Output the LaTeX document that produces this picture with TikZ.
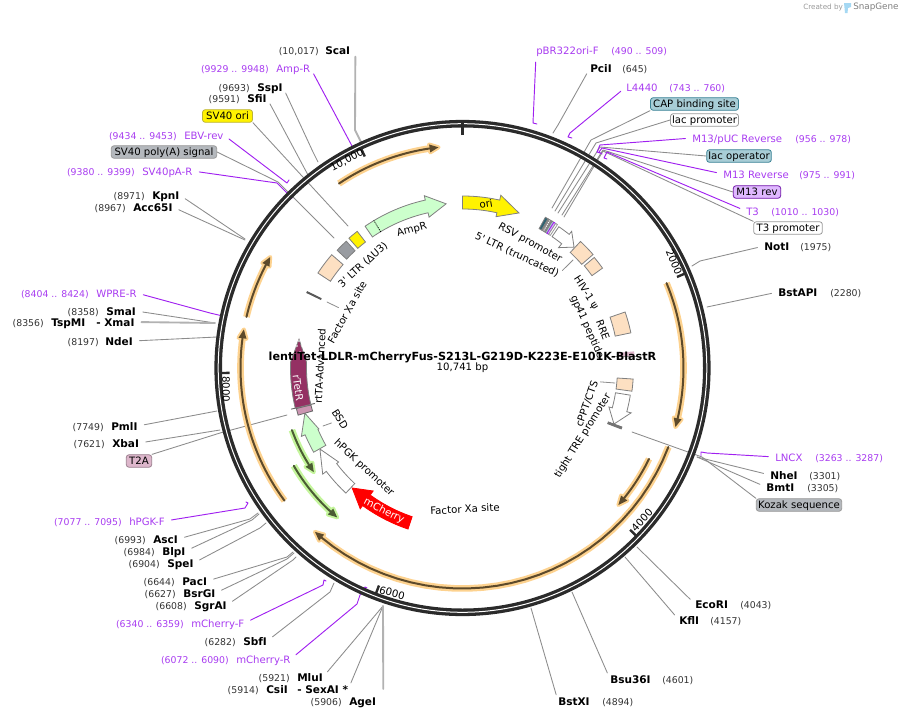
\documentclass[tikz,border=0pt]{standalone}
\usepackage{fontspec}
\setmainfont{DejaVu Sans}
\usetikzlibrary{arrows}
\definecolor{ringdark}{HTML}{2B2B2B}
\definecolor{sitegray}{HTML}{8C8C8C}
\definecolor{primerpurple}{HTML}{A020F0}
\definecolor{primertext}{HTML}{A83CF0}
\definecolor{orfglow}{HTML}{FDD28F}
\definecolor{orfcore}{HTML}{5D4A2B}
\definecolor{greenglow}{HTML}{C4F59C}
\definecolor{greencore}{HTML}{4B5C34}
\definecolor{peach}{HTML}{FDE0C2}
\definecolor{mintfill}{HTML}{CCFFCC}
\definecolor{maroon}{HTML}{943163}
\definecolor{tealchip}{HTML}{A8CDD6}
\definecolor{tealedge}{HTML}{3D8496}
\definecolor{graychip}{HTML}{B4B8BD}
\definecolor{purplechip}{HTML}{DFB8FF}
\definecolor{pinkchip}{HTML}{DDB6CB}
\definecolor{logoblue}{HTML}{A5D8F3}
\tikzset{
	cutname/.style={font=\bfseries\fontsize{7.9}{9}\selectfont,inner sep=0pt,text height=7.4pt,text depth=.5pt},
	cutpos/.style={font=\fontsize{7}{9}\selectfont,text=black!80,inner sep=0pt,text height=6.7pt,text depth=.5pt},
	primername/.style={font=\fontsize{7.6}{9}\selectfont,text=primertext,inner sep=0pt,text height=7.2pt,text depth=.5pt},
	primerpos/.style={font=\fontsize{7}{9}\selectfont,text=primertext,inner sep=0pt,text height=6.7pt,text depth=.5pt},
	chip/.style={font=\fontsize{7.6}{9}\selectfont,rounded corners=2pt,line width=.6pt,inner sep=0pt,minimum height=9.4pt,text height=6.6pt,text depth=1.6pt},
	featlabel/.style={font=\fontsize{7.65}{9}\selectfont,inner sep=0pt},
	sitecon/.style={draw=sitegray,line width=.65pt,shorten <=5pt},
	sitethick/.style={draw=black!30,line width=1.4pt,shorten <=5pt},
	chipcon/.style={draw=sitegray,line width=.65pt},
	primercon/.style={draw=primerpurple,line width=.7pt,shorten <=5pt},
	leader/.style={draw=sitegray,line width=.6pt,shorten <=4pt},
	feat/.style={draw=black!50,line width=.6pt,line join=miter},
}
\newcommand{\ringarc}[3]{plot[domain=#1:#2,samples=30,variable=\ang] ({\ang-90}:#3)}
\newcommand{\featbox}[5]{\draw[feat,#1] \ringarc{#2}{#3}{#5} -- plot[domain=#3:#2,samples=8,variable=\ang] ({\ang-90}:#4) -- cycle;}
\newcommand{\featarrow}[9]{\draw[feat,#1] \ringarc{#2}{#3}{#6} -- ({#3-90}:#8) -- ({#4-90}:#9) -- ({#3-90}:#7) -- ({#3-90}:#5) -- plot[domain=#3:#2,samples=30,variable=\ang] ({\ang-90}:#5) -- cycle;}
\newcommand{\orfarrow}[6]{
	\draw[#1,line width=5pt,line cap=butt] \ringarc{#3}{#4}{#6};
	\filldraw[#1,line width=3pt,line join=round] ({#4-90}:{#6-4}) -- ({#5-90}:#6) -- ({#4-90}:{#6+4}) -- cycle;
	\draw[#2,line width=1.5pt] \ringarc{#3}{#4}{#6};
	\fill[#2] ({#4-90}:{#6-4}) -- ({#5-90}:#6) -- ({#4-90}:{#6+4}) -- cycle;
}
\begin{document}
\begin{tikzpicture}[line cap=round,line join=round,x=0.75pt,y=-0.75pt]
	\useasboundingbox (0,0) rectangle (901,718);
	% logo
	\node[font=\fontsize{5.4}{6}\selectfont,text=black!40,inner sep=0pt,anchor=west] (createdby) at (803,7.5) {Created by};
	\node[font=\fontsize{6.6}{7}\selectfont,text=black!50,inner sep=0pt,anchor=west] (snapgene) at (853,7.5) {SnapGene};
	\fill[logoblue] (844,3) -- (851,3) -- (851,7) -- (848,8) -- (847.5,13) -- (845,13) -- cycle;
	% enzyme labels, upper left
	\node[cutname,anchor=west] (scai) at (325,50) {ScaI};
	\node[cutpos,anchor=east] (scaipos) at (319,50) {(10,017)};
	\node[cutname,anchor=west] (sspi) at (257,87) {SspI};
	\node[cutpos,anchor=east] (sspipos) at (250,87) {(9693)};
	\node[cutname,anchor=west] (sfii) at (247,98) {SfiI};
	\node[cutpos,anchor=east] (sfiipos) at (240,98) {(9591)};
	\node[cutname,anchor=west] (kpni) at (152,195) {KpnI};
	\node[cutpos,anchor=east] (kpnipos) at (145,195) {(8971)};
	\node[cutname,anchor=west] (acci) at (133,207) {Acc65I};
	\node[cutpos,anchor=east] (accipos) at (126,207) {(8967)};
	\node[cutname,anchor=west] (smai) at (106,311) {SmaI};
	\node[cutpos,anchor=east] (smaipos) at (99,311) {(8358)};
	\node[cutname,anchor=west] (tspmi) at (51,322) {TspMI};
	\node[cutpos,anchor=east] (tspmipos) at (44,322) {(8356)};
	\node[cutname,anchor=west] (xmai) at (96,322) {- XmaI};
	\node[cutname,anchor=west] (ndei) at (105,341) {NdeI};
	\node[cutpos,anchor=east] (ndeipos) at (99,341) {(8197)};
	\node[cutname,anchor=west] (pmli) at (111,426) {PmlI};
	\node[cutpos,anchor=east] (pmlipos) at (104,426) {(7749)};
	\node[cutname,anchor=west] (xbai) at (112,443) {XbaI};
	\node[cutpos,anchor=east] (xbaipos) at (105,443) {(7621)};
	% enzyme labels, lower left
	\node[cutname,anchor=west] (asci) at (153,539) {AscI};
	\node[cutpos,anchor=east] (ascipos) at (146,539) {(6993)};
	\node[cutname,anchor=west] (blpi) at (162,551) {BlpI};
	\node[cutpos,anchor=east] (blpipos) at (155,551) {(6984)};
	\node[cutname,anchor=west] (spei) at (167,563) {SpeI};
	\node[cutpos,anchor=east] (speipos) at (160,563) {(6904)};
	\node[cutname,anchor=west] (paci) at (182,581) {PacI};
	\node[cutpos,anchor=east] (pacipos) at (175,581) {(6644)};
	\node[cutname,anchor=west] (bsrgi) at (183,593) {BsrGI};
	\node[cutpos,anchor=east] (bsrgipos) at (176,593) {(6627)};
	\node[cutname,anchor=west] (sgrai) at (194,605) {SgrAI};
	\node[cutpos,anchor=east] (sgraipos) at (187,605) {(6608)};
	\node[cutname,anchor=west] (sbfi) at (243,641) {SbfI};
	\node[cutpos,anchor=east] (sbfipos) at (236,641) {(6282)};
	\node[cutname,anchor=west] (mlui) at (297,677) {MluI};
	\node[cutpos,anchor=east] (mluipos) at (290,677) {(5921)};
	\node[cutname,anchor=west] (csii) at (266,689) {CsiI};
	\node[cutpos,anchor=east] (csiipos) at (259,689) {(5914)};
	\node[cutname,anchor=west] (sexai) at (297,689) {- SexAI *};
	\node[cutname,anchor=west] (agei) at (349,701) {AgeI};
	\node[cutpos,anchor=east] (ageipos) at (342,701) {(5906)};
	% enzyme labels, right
	\node[cutname,anchor=west] (pcii) at (590,68) {PciI};
	\node[cutpos,anchor=west] (pciipos) at (622,68) {(645)};
	\node[cutname,anchor=west] (noti) at (764,246) {NotI};
	\node[cutpos,anchor=west] (notipos) at (800,246) {(1975)};
	\node[cutname,anchor=west] (bstapi) at (778,292) {BstAPI};
	\node[cutpos,anchor=west] (bstapipos) at (830,292) {(2280)};
	\node[cutname,anchor=west] (nhei) at (770,475) {NheI};
	\node[cutpos,anchor=west] (nheipos) at (809,475) {(3301)};
	\node[cutname,anchor=west] (bmti) at (766,487) {BmtI};
	\node[cutpos,anchor=west] (bmtipos) at (807,487) {(3305)};
	\node[cutname,anchor=west] (ecori) at (695,604) {EcoRI};
	\node[cutpos,anchor=west] (ecoripos) at (740,604) {(4043)};
	\node[cutname,anchor=west] (kfli) at (679,620) {KflI};
	\node[cutpos,anchor=west] (kflipos) at (710,620) {(4157)};
	\node[cutname,anchor=west] (bsui) at (610,679) {Bsu36I};
	\node[cutpos,anchor=west] (bsuipos) at (662,679) {(4601)};
	\node[cutname,anchor=west] (bstxi) at (558,701) {BstXI};
	\node[cutpos,anchor=west] (bstxipos) at (602,701) {(4894)};
	% primer labels
	\node[primername,anchor=west] (ampr) at (276,68) {Amp-R};
	\node[primerpos,anchor=east] (amprpos) at (269,68) {(9929 .. 9948)};
	\node[primername,anchor=west] (ebvrev) at (184,135) {EBV-rev};
	\node[primerpos,anchor=east] (ebvrevpos) at (177,135) {(9434 .. 9453)};
	\node[primername,anchor=west] (sv40par) at (142,171) {SV40pA-R};
	\node[primerpos,anchor=east] (sv40parpos) at (135,171) {(9380 .. 9399)};
	\node[primername,anchor=west] (wprer) at (96,293) {WPRE-R};
	\node[primerpos,anchor=east] (wprerpos) at (89,293) {(8404 .. 8424)};
	\node[primername,anchor=west] (hpgkf) at (129,521) {hPGK-F};
	\node[primerpos,anchor=east] (hpgkfpos) at (122,521) {(7077 .. 7095)};
	\node[primername,anchor=west] (mcherryf) at (191,623) {mCherry-F};
	\node[primerpos,anchor=east] (mcherryfpos) at (184,623) {(6340 .. 6359)};
	\node[primername,anchor=west] (mcherryr) at (236,659) {mCherry-R};
	\node[primerpos,anchor=east] (mcherryrpos) at (229,659) {(6072 .. 6090)};
	\node[primername,anchor=west] (pbrf) at (536,50) {pBR322ori-F};
	\node[primerpos,anchor=west] (pbrfpos) at (611,50) {(490 .. 509)};
	\node[primername,anchor=west] (lfour) at (626,87) {L4440};
	\node[primerpos,anchor=west] (lfourpos) at (669,87) {(743 .. 760)};
	\node[primername,anchor=west] (mpuc) at (692,138) {M13/pUC Reverse};
	\node[primerpos,anchor=west] (mpucpos) at (795,138) {(956 .. 978)};
	\node[primername,anchor=west] (mrev) at (723,174) {M13 Reverse};
	\node[primerpos,anchor=west] (mrevpos) at (799,174) {(975 .. 991)};
	\node[primername,anchor=west] (tthree) at (746,211) {T3};
	\node[primerpos,anchor=west] (tthreepos) at (771,211) {(1010 .. 1030)};
	\node[primername,anchor=west] (lncx) at (775,457) {LNCX};
	\node[primerpos,anchor=west] (lncxpos) at (815,457) {(3263 .. 3287)};
	% feature chips
	\node[chip,draw=yellow!70!black,fill=yellow,minimum width=37.5pt] (svori) at (227.5,116) {SV40 ori};
	\node[chip,draw=black!40,fill=graychip,minimum width=79pt] (svpoly) at (164,152) {SV40 poly(A) signal};
	\node[chip,draw=pinkchip!70!black,fill=pinkchip,minimum width=19pt] (ttwoa) at (139,461) {T2A};
	\node[chip,draw=tealedge,fill=tealchip,minimum width=66pt] (capsite) at (694.5,104) {CAP binding site};
	\node[chip,draw=black!40,fill=white,minimum width=51pt] (lacprom) at (704.5,120) {lac promoter};
	\node[chip,draw=tealedge,fill=tealchip,minimum width=48.5pt] (lacop) at (739,156) {lac operator};
	\node[chip,draw=primerpurple!70!black,fill=purplechip,minimum width=35.5pt] (mrevchip) at (757,192) {M13 rev};
	\node[chip,draw=black!40,fill=white,minimum width=51.5pt] (tprom) at (788,228) {T3 promoter};
	\node[chip,draw=black!40,fill=graychip,minimum width=64pt] (kozak) at (799,505) {Kozak sequence};
	% connector ends
	\coordinate (scaiend) at (361,142);
	\coordinate (sspiend) at (318,162);
	\coordinate (sfiiend) at (308,175);
	\coordinate (kpniend) at (245,239);
	\coordinate (acciend) at (245,240);
	\coordinate (smaiend) at (215,323);
	\coordinate (ndeiend) at (217,337);
	\coordinate (pmliend) at (217,411);
	\coordinate (xbaiend) at (220,430);
	\coordinate (asciend) at (258,513);
	\coordinate (blpiend) at (259,514);
	\coordinate (speiend) at (266,523);
	\coordinate (paciend) at (293,552);
	\coordinate (bsrgiend) at (294,553);
	\coordinate (sgraiend) at (296,557);
	\coordinate (sbfiend) at (334,583);
	\coordinate (cutbottom) at (383,606);
	\coordinate (pciiend) at (553,133);
	\coordinate (notiend) at (692,266);
	\coordinate (bstapiend) at (707,307);
	\coordinate (nheiend) at (697,457);
	\coordinate (ecoriend) at (637,547);
	\coordinate (kfliend) at (625,557);
	\coordinate (bsuiend) at (572,592);
	\coordinate (bstxiend) at (531,608);
	\coordinate (svoriend) at (348,226);
	\coordinate (svpolyend) at (334,238);
	\coordinate (ttwoaend) at (287,415);
	\coordinate (capend) at (552,208);
	\coordinate (lacpromend) at (555,211);
	\coordinate (lacopend) at (558,213);
	\coordinate (mrevend) at (562,215);
	\coordinate (tpromend) at (564,217);
	\coordinate (kozakend) at (632,432);
	% enzyme connectors
	\draw[sitethick] ([xshift=3.75pt]scai.east) -- (355,130) -- (scaiend);
	\draw[sitecon] (sspi.east) -- (313,152) -- (sspiend);
	\draw[sitecon] (sfii.east) -- (sfiiend);
	\draw[sitecon] (kpni.east) -- (kpniend);
	\draw[sitecon] (acci.east) -- (acciend);
	\draw[sitecon] (smai.east) -- (smaiend);
	\draw[sitethick] (xmai.east) -- (smaiend);
	\draw[sitecon] (ndei.east) -- (ndeiend);
	\draw[sitecon] (pmli.east) -- (pmliend);
	\draw[sitecon] (xbai.east) -- (xbaiend);
	\draw[sitecon] (asci.east) -- (250,519) -- (asciend);
	\draw[sitecon] (blpi.east) -- (252,520) -- (blpiend);
	\draw[sitecon] (spei.east) -- (260,528) -- (speiend);
	\draw[sitecon] (paci.east) -- (287,557) -- (paciend);
	\draw[sitecon] (bsrgi.east) -- (287,559) -- (bsrgiend);
	\draw[sitecon] (sgrai.east) -- (293,560) -- (sgraiend);
	\draw[sitecon] (sbfi.east) -- (330,592) -- (sbfiend);
	\draw[sitecon] (mlui.east) -- (cutbottom);
	\draw[sitecon] (sexai.east) -- (cutbottom);
	\draw[sitethick] ([xshift=5.25pt,yshift=4pt]agei.east) -- (cutbottom);
	\draw[sitecon] (pcii.west) -- (558,125) -- (pciiend);
	\draw[sitecon] (noti.west) -- (700,261) -- (notiend);
	\draw[sitecon] (bstapi.west) -- (bstapiend);
	\draw[sitecon] (nhei.west) -- (nheiend);
	\draw[sitecon] (bmti.west) -- (nheiend);
	\draw[sitecon] (ecori.west) -- (ecoriend);
	\draw[sitecon] (kfli.west) -- (kfliend);
	\draw[sitecon] (bsui.west) -- (bsuiend);
	\draw[sitecon] (bstxi.west) -- (bstxiend);
	% chip connectors
	\draw[chipcon] (svori.south east) -- (svoriend);
	\draw[chipcon] (svpoly.east) -- (278,182) -- (svpolyend);
	\draw[chipcon] (ttwoa.north east) -- (220,433) -- (ttwoaend);
	\draw[chipcon] (capsite.south west) -- (591,140) -- (capend);
	\draw[chipcon] (lacprom.west) -- (596,143) -- (lacpromend);
	\draw[chipcon] (lacop.west) -- (600,147) -- (lacopend);
	\draw[chipcon] (mrevchip.west) -- (603,150) -- (mrevend);
	\draw[chipcon] (tprom.north west) -- (603,151) -- (tpromend);
	\draw[chipcon] (kozak.north west) -- (702,457) -- (kozakend);
	% primer connectors
	\draw[primercon] (ampr.east) -- (352,146) -- (354,151) -- (351,152);
	\draw[primercon] (ebvrev.east) -- (287,183) -- (289,180);
	\draw[primercon] (sv40par.east) -- (277,183) -- (292,198) -- (290,199);
	\draw[primercon] (wprer.east) -- (210,313) -- (227,317);
	\draw[primercon] (hpgkf.east) -- (245,508) -- (248,503) -- (246,502);
	\draw[primercon] (mcherryf.east) -- (323,585) -- (324,580) -- (326,581);
	\draw[primercon] (mcherryr.east) -- (357,604) -- (360,595) -- (365,587) -- (367,588);
	\draw[primercon] (pbrf.south west) -- (533,123) -- (537,124);
	\draw[primercon] (lfour.west) -- (570,133) -- (568,137) -- (572,138);
	\draw[primercon] (mpuc.west) -- (600,145) -- (597,152) -- (600,153);
	\draw[primercon] (mrev.west) -- (602,148) -- (599,152) -- (602,154);
	\draw[primercon] (tthree.west) -- (607,152) -- (604,158) -- (607,159);
	\draw[primercon] (lncx.west) -- (707,453) -- (701,452) -- (701,456);
	\begin{scope}[shift={(462.5,368)}]
		% ring and ticks
		\draw[ringdark,line width=5.7pt] (0,0) circle (244.3);
		\draw[white,line width=.75pt] (0,0) circle (244.3);
		\draw[ringdark,line width=2.2pt,line cap=butt] (-90:233) -- (-90:246);
		\draw[ringdark,line width=1.8pt,line cap=butt] ({67-90}:233) -- ({67-90}:243);
		\draw[ringdark,line width=1.8pt,line cap=butt] ({134-90}:233) -- ({134-90}:243);
		\draw[ringdark,line width=1.8pt,line cap=butt] ({201-90}:233) -- ({201-90}:243);
		\draw[ringdark,line width=1.8pt,line cap=butt] ({268.8-90}:233) -- ({268.8-90}:243);
		\draw[ringdark,line width=1.8pt,line cap=butt] ({335.2-90}:233) -- ({335.2-90}:243);
		% open reading frames
		\orfarrow{orfglow}{orfcore}{-33.8}{-8.5}{-6.2}{222}
		\orfarrow{orfglow}{orfcore}{-76.7}{-62.3}{-60}{222}
		\orfarrow{orfglow}{orfcore}{233.3}{277.7}{280}{222}
		\orfarrow{orfglow}{orfcore}{111}{219.7}{222}{220.5}
		\orfarrow{orfglow}{orfcore}{67.4}{103.2}{105.5}{221}
		\orfarrow{orfglow}{orfcore}{116}{128.8}{131.3}{207.5}
		\orfarrow{greenglow}{greencore}{250}{237.8}{235}{181.5}
		\orfarrow{greenglow}{greencore}{239.9}{222.6}{220}{195}
		% features
		\featarrow{fill=mintfill}{-34.5}{-12.5}{-5.7}{159}{172}{154.5}{176.5}{165}
		\draw[black,line width=.6pt,densely dotted] ({-31-90}:159) -- ({-31-90}:172);
		\featarrow{fill=yellow}{0}{12.5}{20}{159}{172}{155}{177}{165}
		\featbox{fill=yellow}{-41.2}{-37.6}{159}{172.5}
		\featbox{fill=graychip!85!black}{-46.8}{-42.5}{159}{172}
		\featbox{fill=peach}{-56.7}{-49.1}{158}{173}
		\featbox{draw=black!65,fill=black!65}{-64.2}{-63.8}{157.5}{173}
		\featbox{fill=tealedge!75!black}{28.8}{29.8}{159}{172}
		\featbox{fill=black!45}{29.9}{31.4}{159}{172}
		\draw[white,line width=.6pt,densely dotted] ({30.6-90}:160) -- ({30.6-90}:171);
		\featbox{fill=tealchip}{31.4}{32.1}{159}{172}
		\featbox{draw=primerpurple,fill=purplechip}{32.1}{32.8}{159}{172}
		\featbox{draw=black!40,fill=white}{32.8}{33.5}{159}{172}
		\featarrow{fill=white}{34.3}{38.6}{42.7}{159}{171}{154}{175}{164.5}
		\featbox{fill=peach}{43}{49}{158}{173}
		\featbox{fill=peach}{50}{54.5}{159}{172}
		\featbox{fill=peach}{71}{78.2}{156}{172}
		\featbox{draw=pinkchip,fill=pinkchip}{84.6}{86}{158}{172}
		\featbox{fill=peach}{93.7}{97.8}{155}{171}
		\featarrow{fill=white}{99.2}{104.9}{110.3}{155}{170}{151.5}{174.5}{161.5}
		\featbox{draw=black!55,fill=black!55}{110.3}{111}{155.5}{170}
		\featarrow{draw=red,fill=red}{198.7}{216}{222.6}{157}{170}{152}{174}{163}
		\featarrow{fill=white}{223}{232.8}{240.4}{158}{171}{155.5}{175.5}{164}
		\featarrow{fill=mintfill}{240.5}{247}{254}{157}{171}{156}{175}{164}
		\featbox{draw=black!60,fill=pinkchip!75!maroon}{254}{256.3}{156}{171}
		\draw[black!60,line width=.7pt] ({256.5-90}:152) -- ({256.5-90}:176);
		\featarrow{fill=maroon}{256.5}{272}{280}{156}{172}{156}{172}{166}
	\end{scope}
	% dots on the head of rTetR
	\foreach \px/\py in {294/352,300/352,305/352,297/346,302/346,299/341}
		\fill[white] (\px,\py) circle (.7pt);
	% feature labels
	\node[featlabel,rotate=15] (amprlabel) at (412,230) {AmpR};
	\node[featlabel,rotate=42] (ltrthree) at (363,265) {3\textquotesingle{} LTR (ΔU3)};
	\node[featlabel,rotate=61] (factorupper) at (347,312) {Factor Xa site};
	\node[featlabel,rotate=87] (rtta) at (320,366) {rtTA-Advanced};
	\node[featlabel,rotate=-82,text=white] (rtetr) at (298,388) {rTetR};
	\node[featlabel,rotate=-58] (bsdlabel) at (340,419) {BSD};
	\node[featlabel,rotate=-43] (hpgk) at (364,468) {hPGK promoter};
	\node[featlabel,rotate=-27,text=white] (mcherry) at (384,511) {mCherry};
	\node[featlabel,rotate=3] (factorlower) at (465,509) {Factor Xa site};
	\node[featlabel,rotate=58] (tight) at (583,436) {tight TRE promoter};
	\node[featlabel,rotate=70] (cppt) at (587,404) {cPPT/CTS};
	\node[featlabel,rotate=-29] (rsv) at (530,243) {RSV promoter};
	\node[featlabel,rotate=-25] (ltrfive) at (517,255) {5\textquotesingle{} LTR (truncated)};
	\node[featlabel,rotate=-57] (hiv) at (586,293) {HIV-1 ψ};
	\node[featlabel,rotate=-70] (rre) at (603,330) {RRE};
	\node[featlabel,rotate=-66] (gpfortyone) at (587,327) {gp41 peptide};
	\node[featlabel,rotate=10] (orilabel) at (486,204) {ori};
	% tick labels
	\node[featlabel,rotate=-67] (ticktwo) at (674,262) {2000};
	\node[featlabel,rotate=47] (tickfour) at (642,520) {4000};
	\node[featlabel,rotate=-15] (ticksix) at (392,593) {6000};
	\node[featlabel,rotate=-90] (tickeight) at (226,389) {8000};
	\node[featlabel,rotate=28] (tickten) at (347,160) {10,000};
	% feature leaders
	\coordinate (ltrfiveend) at (573,260);
	\coordinate (factorend) at (327,302);
	\coordinate (bsdend) at (323,426);
	\coordinate (cpptend) at (615,383);
	\coordinate (gpstart) at (614,356);
	\coordinate (gpend) at (638,356);
	\draw[leader] (ltrfive.east) -- (ltrfiveend);
	\draw[leader] (factorupper.north) -- (factorend);
	\draw[leader] (bsdlabel.south) -- (bsdend);
	\draw[leader] (cppt.east) -- (cpptend);
	\draw[leader,shorten <=0pt] (gpstart) -- (gpend);
	% title
	\node[cutname,font=\bfseries\fontsize{8.4}{9}\selectfont] (title) at (462.5,356) {lentiTet-LDLR-mCherryFus-S213L-G219D-K223E-E101K-BlastR};
	\node[font=\fontsize{7.6}{9}\selectfont,inner sep=0pt] (length) at (462.5,368) {10,741 bp};
\end{tikzpicture}
\end{document}
